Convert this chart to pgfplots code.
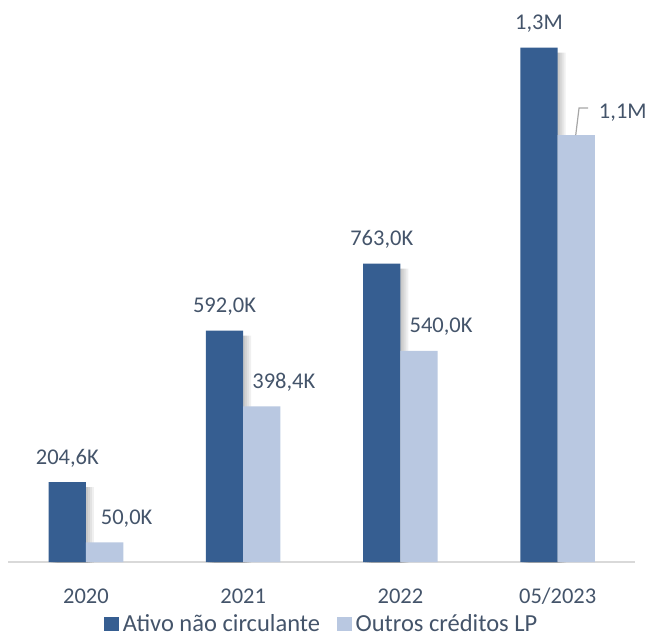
\documentclass[border=0pt]{standalone}
\usepackage{fontspec}
\setmainfont{Carlito}
\usepackage{pgfplots}
\pgfplotsset{compat=1.18}
\definecolor{darkbar}{HTML}{365E91}
\definecolor{lightbar}{HTML}{B9C8E1}
\definecolor{txt}{HTML}{44546A}
\definecolor{baseline}{HTML}{D9D9D9}
\definecolor{leader}{HTML}{A6A6A6}

\newcommand{\lbl}{\fontsize{22.5bp}{27bp}\selectfont}
\newcommand{\leg}{\fontsize{24.5bp}{29bp}\selectfont}
\pgfplotsset{
  sqlegend/.style={legend image code/.code={\fill[##1] (0bp,-7bp) rectangle (15bp,7bp);}},
  shadow/.style={forget plot, fill=black, draw=none, opacity=0.06, yshift=-5bp},
}

\begin{document}
\begin{tikzpicture}
\begin{axis}[
  scale only axis,
  width=626.7bp, height=552bp,
  xmin=-0.494, xmax=3.492,
  ymin=0, ymax=1412,
  axis x line*=bottom,
  axis y line=none,
  axis line style={draw=baseline, line width=1.6bp},
  xtick={0,1,2,3},
  xticklabels={2020,2021,2022,05/2023},
  xtick style={draw=none},
  xticklabel style={font=\lbl, text=txt, anchor=base, yshift=-37bp},
  ybar, bar width=37.3bp,
  point meta=explicit symbolic,
  legend style={at={(0.5,0)}, anchor=center, yshift=-61.5bp,
    draw=none, fill=none, legend columns=2, font=\leg, text=txt,
    nodes={inner sep=1.5bp},
    /tikz/every odd column/.append style={column sep=2bp},
    /tikz/every even column/.append style={column sep=15.5bp}},
]
% soft shadow right of the dark bars
\addplot[shadow, bar shift=-16.65bp] coordinates {(0,204.6) (1,592) (2,763) (3,1316)};
\addplot[shadow, bar shift=-14.65bp] coordinates {(0,204.6) (1,592) (2,763) (3,1316)};
\addplot[shadow, bar shift=-12.65bp] coordinates {(0,204.6) (1,592) (2,763) (3,1316)};
\addplot[shadow, bar shift=-10.65bp] coordinates {(0,204.6) (1,592) (2,763) (3,1316)};

% Ativo nao circulante
\addplot[fill=darkbar, draw=none, bar shift=-18.65bp, sqlegend,
  nodes near coords, nodes near coords style={font=\lbl, text=txt, anchor=center, yshift=24bp}]
  coordinates {(0,204.6) [204,6K] (1,592) [592,0K] (2,763) [763,0K] (3,1316) [1,3M]};

% Outros creditos LP
\addplot[fill=lightbar, draw=none, bar shift=18.65bp, sqlegend]
  coordinates {(0,50) (1,398.4) (2,540) (3,1092)};

% labels of the light bars
\addplot[forget plot, draw=none, fill=none, bar shift=18.65bp,
  nodes near coords, nodes near coords style={font=\lbl, text=txt, anchor=center, xshift=22bp, yshift=24bp}]
  coordinates {(0,50) [50,0K] (1,398.4) [398,4K] (2,540) [540,0K]};
\addplot[forget plot, draw=none, fill=none, bar shift=18.65bp,
  nodes near coords, nodes near coords style={font=\lbl, text=txt, anchor=center, xshift=46.5bp, yshift=22bp}]
  coordinates {(3,1092) [1,1M]};

\draw[leader, line width=1.2bp] (axis cs:3.115,1092) -- ++(3.3bp,27bp) -- ++(9bp,0bp);

\legend{Ativo não circulante, Outros créditos LP}
\end{axis}
\pgfresetboundingbox
\path ([xshift=-8.3bp,yshift=-75bp]current axis.south west) rectangle ([xshift=14bp,yshift=10bp]current axis.north east);
\end{tikzpicture}
\end{document}
